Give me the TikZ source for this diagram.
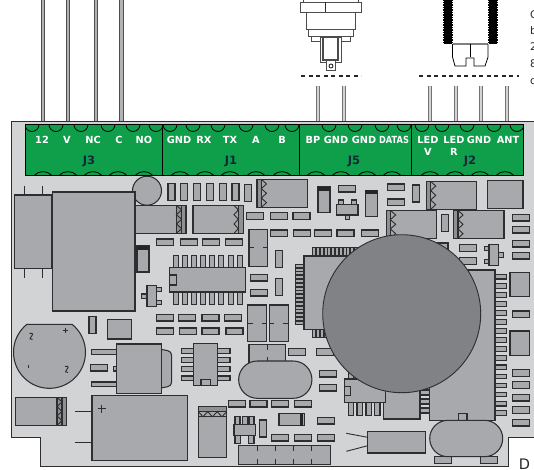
\documentclass[tikz,border=0pt]{standalone}
\usepackage{fontspec}
\setmainfont{DejaVu Sans}
\definecolor{boardgrey}{HTML}{D1D3D4}
\definecolor{partgrey}{HTML}{A7A9AC}
\definecolor{domegrey}{HTML}{808285}
\definecolor{linegrey}{HTML}{2E2E30}
\definecolor{blockgreen}{HTML}{0F9F4B}
\definecolor{idblue}{HTML}{14283A}
\tikzset{
    board/.style={draw=linegrey,fill=boardgrey,line width=0.9pt},
    part/.style={draw=linegrey,fill=partgrey,line width=1.05pt},
    tick/.style={draw=linegrey,line width=0.9pt},
    terminal/.style={draw=black,fill=blockgreen,line width=0.9pt},
    scallop/.style={draw=black,line width=0.8pt},
    wire/.style={draw=linegrey!85,double=partgrey!90,double distance=2.3pt,line width=1pt},
    pinlabel/.style={text=white,font=\bfseries\fontsize{9.8}{10}\selectfont,inner sep=0pt},
    idlabel/.style={text=idblue,font=\bfseries\fontsize{11.5}{12}\selectfont,inner sep=0pt},
    cuttext/.style={text=black!85,anchor=base west,inner sep=0pt,font=\fontsize{10.5}{12}\selectfont},
    fitting/.style={draw=black!70,fill=white,line width=1pt},
    dashrow/.style={draw=black!85,line width=1.8pt,dash pattern=on 4pt off 3.5pt},
}
\newcommand{\zigv}[4]{\draw[tick] (#1,#3) -- (#2,#3+#4/6) -- (#1,#3+2*#4/6) -- (#2,#3+3*#4/6) -- (#1,#3+4*#4/6) -- (#2,#3+5*#4/6) -- (#1,#3+#4);}
\begin{document}
\begin{tikzpicture}[x=1pt,y=-1pt]
    \path[use as bounding box,clip] (0,0) rectangle (534,469);

    \foreach \xa/\nam in {43/a,68/b,96/c,121.5/d} {
        \coordinate (top\nam) at (\xa,-2);
        \coordinate (foot\nam) at (\xa,124);
        \draw[wire] (top\nam) -- (foot\nam);
    }
    \foreach \xa/\nam in {318/e,344/f,430/g,456/h,481/i,507/j} {
        \coordinate (top\nam) at (\xa,86);
        \coordinate (foot\nam) at (\xa,124);
        \draw[wire,draw=black!55,double=boardgrey] (top\nam) -- (foot\nam);
    }
    \draw[dashrow] (301,76) -- (361,76);
    \draw[dashrow] (419,76) -- (519,76);

    \draw[fitting] (303,-1) rectangle (358,2);
    \draw[fitting] (300,2) rectangle (361,12.5);
    \draw[tick] (325,2) -- (325,12.5);
    \draw[fitting] (306.7,12.5) rectangle (355,29.5);
    \draw[fitting] (308.5,29.5) rectangle (353.5,36);
    \draw[fitting] (311,36) rectangle (350,41);
    \draw[fitting] (320,37) rectangle (341,62);
    \draw[fitting] (326,60) rectangle (335,70);
    \draw[fitting,line width=1.2pt] (323,37) rectangle (338,60);
    \draw[tick] (331,66) circle (2);

    \foreach \xa in {443,488} {
        \fill[black] (\xa,-1) rectangle (\xa+10,44);
        \foreach \ya in {1,3.5,...,44} {
            \draw[white,line width=0.5pt] (\xa,\ya) -- (\xa+1,\ya);
            \draw[white,line width=0.5pt] (\xa+9,\ya) -- (\xa+10,\ya);
        }
    }
    \draw[draw=black!50,line width=1.2pt] (453,44) -- (488,44);
    \draw[draw=black,line width=0.8pt] (452.5,44) -- (452.5,57) -- (455,66) -- (466,66) -- (466,58) -- (474,58) -- (474,66) -- (485,66) -- (488,57) -- (488,44);
    \draw[draw=black,line width=0.8pt] (470.5,44) -- (470.5,57);

    \node[cuttext] (capa) at (530,18) {C};
    \node[cuttext] (capb) at (530,34) {b};
    \node[cuttext] (capc) at (530,50) {2};
    \node[cuttext] (capd) at (530,67) {8};
    \node[cuttext] (cape) at (530,84) {c};
    \node[cuttext,font=\fontsize{14.5}{16}\selectfont] (capf) at (518.6,469) {D};

    \draw[board] (540,121) -- (11.5,121) -- (11.5,437.7) -- (40.3,437.7) -- (40.3,466.7) -- (508,466.7) -- (508,437.7) -- (540,437.7);

    \draw[terminal] (25.5,124.5) rectangle (523.5,175);
    \begin{scope}
        \clip (25.5,124.5) rectangle (523.5,175);
        \foreach \xa in {32,56,81,108,133,156,170,193,218,246,272,292,329,355,382,404,422,442,467,494,517}
            \draw[scallop] (\xa,124.5) circle (7);
        \foreach \xa in {43,68,93,118,144,180,205,230,256,282,316,341,367,392,430,455,480,505}
            \draw[scallop] (\xa-8.5,175) .. controls (\xa-4,170.5) and (\xa+4,170.5) .. (\xa+8.5,175);
    \end{scope}
    \foreach \xa in {162,299.3,411}
        \draw[terminal,line width=1pt] (\xa,124.5) -- (\xa,175);
    \draw[draw=black,line width=0.9pt] (25.5,124.5) rectangle (523.5,175);

    \foreach \xa/\ya/\txt/\nam in {42/140/12/tw,67/140/V/v,93/140/NC/nc,119/140/C/c,144/140/NO/no,
        179/140/GND/gnda,204/140/RX/rx,230/140/TX/tx,256/140/A/a,282/140/B/b,
        313/140/BP/bp,336/140/GND/gndb,364/140/GND/gndc,
        428/140/LED/leda,428/152/V/ledv,454/140/LED/ledb,454/152/R/ledr,479/140/GND/gndd,508/140/ANT/ant}
        \node[pinlabel] (pin\nam) at (\xa,\ya) {\txt};
    \node[pinlabel,xscale=.84] (pindatas) at (394,140) {DATAS};
    \foreach \xa/\txt in {89/J3,231/J1,354/J5,470/J2}
        \node[idlabel] (id\txt) at (\xa,161) {\txt};

    \draw[part] (147,190.7) circle (14.5);
    \foreach \xa in {168,180.7,193.3,206.3,219.3,232}
        \draw[part] (\xa,183.3) rectangle (\xa+7,200.7);
    \draw[part] (244.7,184.3) rectangle (251.3,201.7);

    \draw[tick] (24,185.5) -- (24,195) (42.3,185.5) -- (42.3,195) (24,268.3) -- (24,277.7) (42.3,268.3) -- (42.3,277.7);
    \foreach \xa/\ya/\xb/\yb in {14.7/195/51.7/268.3,52.3/192/135/311,107.3/319.3/131.7/339,
        249/229.7/267.7/266.7,487.3/180.3/523/208.3,510/272.3/529.3/296.7,510/331/529.3/355.3}
        \draw[part] (\xa,\ya) rectangle (\xb,\yb);

    \foreach \xa/\xb/\ya/\xs/\xt/\xp/\xq in {135.3/186/205.3/176.3/181.7/176.3/181.7,
        193/243.7/205.3/238.3/243.7/234/238.3,
        257/307.7/179.3/257/261.3/261.3/266.5,
        426.7/476.7/181.3/426.7/430.7/430.7/435.7,
        386.3/436.7/210.3/386.3/390.3/390.3/395.7,
        453.3/504/210.3/453.3/458/458/463,
        15.7/66.3/397.3/57/62/57/62} {
        \draw[part] (\xa,\ya) rectangle (\xb,\ya+28);
        \draw[part,fill=partgrey!85!black] (\xs,\ya) rectangle (\xt,\ya+28);
        \zigv{\xp}{\xq}{\ya}{28}
    }
    \draw[part,fill=partgrey!85!black] (181.7,205.3) rectangle (186,233.3);
    \draw[part,fill=partgrey!85!black] (62,397.3) rectangle (66.3,425.3);

    \foreach \xa/\ya in {246.7/212.7,270.7/212.7,293/212.7,
        156.7/239,180.7/239,202.7/239,225.3/239,
        270.3/230,293.3/230,314.7/230,337/230,361.3/230,
        338.3/185.3,387.3/184,387.3/199,
        250.3/274.3,250.3/289.3,
        156.7/314.3,178.7/314.3,202/314.3,224.7/314.3,
        156.7/328,179.3/328,202/328,226/328,
        288.7/348.7,316.7/348.7,319.3/370.3,319.3/384.3,
        90.3/364.3,228.3/400.3,250/400.3,271.3/400.3,294.3/400.3,
        271.3/434.3,294.3/434.3,317.3/434.3,317.3/417.3,
        434.3/456.7,480.7/456.7,
        459.3/244.7,459.3/257.7,
        512.7/214.3,512.7/226.3,512.7/240.3,512.7/252.3,512.7/311,
        512.7/369.7,512.7/381.7,512.7/394.3,512.7/406.7,512.7/419.3}
        \draw[part] (\xa,\ya) rectangle (\xa+17,\ya+6.7);

    \foreach \xa/\ya in {275.3/250.7,275.3/278.7,412.3/185,441.3/214.3,259.3/420,89/316.3}
        \draw[part] (\xa,\ya) rectangle (\xa+7,\ya+17);

    \foreach \xa/\ya in {137/246,318/186.7,365.3/190.3} {
        \draw[part] (\xa,\ya) rectangle (\xa+12,\ya+26);
        \fill[black!85] (\xa,\ya) rectangle (\xa+12,\ya+4);
    }

    \foreach \ia in {0,...,7} {
        \draw[part] (173.2+9.14*\ia,255.7) rectangle (178.2+9.14*\ia,267.7);
        \draw[part] (173.2+9.14*\ia,292) rectangle (178.2+9.14*\ia,304.7);
    }
    \draw[part] (169.3,267.7) rectangle (245.7,292);
    \draw[part] (169.3,275) rectangle (176.7,285);

    \draw[part] (156.7,287.3) rectangle (161.3,291.7);
    \draw[part] (156.7,300.7) rectangle (161.3,304.7);
    \draw[part] (141.7,294) rectangle (147,298.3);
    \draw[part] (147,285.7) rectangle (156.7,306.7);

    \draw[part] (484.3,246.3) rectangle (489,250.3);
    \draw[part] (484.3,259.7) rectangle (489,263.7);
    \draw[part] (498.7,252.7) rectangle (503.7,257.3);
    \draw[part] (489,244.3) rectangle (498.7,265.3);

    \draw[part] (338.7,200) rectangle (343.3,204.3);
    \draw[part] (351.7,200) rectangle (356.3,204.3);
    \draw[part] (345.3,215) rectangle (349.3,219.3);
    \draw[part] (336.3,204.3) rectangle (358,215);

    \draw[part] (72.1,324.3) arc[start angle=-51.1,end angle=231.1,radius=36] -- cycle;
    \draw[tick] (63,330.3) -- (67.6,330.3) (65.3,328) -- (65.3,332.6);
    \draw[tick] (28.3,365.3) -- (28.3,368.3);
    \draw[tick] (29.5,333.5) .. controls (34,332) and (33,336) .. (31,337) .. controls (29,338) and (30,340) .. (32.5,339.5);
    \draw[tick] (65,366.5) .. controls (69.5,365) and (68.5,369) .. (66.5,370) .. controls (64.5,371) and (65.5,373) .. (68,372.5);

    \draw[part,rounded corners=4pt] (155,348.3) -- (171.7,348.3+3) -- (171.7,389-3) -- (155,389) -- cycle;
    \draw[part] (91.7,349.7) rectangle (116.3,354.3);
    \draw[part] (91.7,382) rectangle (116.3,386.7);
    \draw[part] (113.7,366.3) rectangle (116.3,371);
    \draw[part] (116.3,344) rectangle (161.7,393.3);

    \foreach \ya in {348.7,357.7,366.7,376} {
        \draw[part] (181.3,\ya) rectangle (193.7,\ya+4.7);
        \draw[part] (217.7,\ya) rectangle (230,\ya+4.7);
    }
    \draw[part] (193.7,343.3) rectangle (217.7,385.3);
    \draw[part] (201,379.3) rectangle (210.7,385.3);

    \draw[tick] (75.3,411.7) -- (92,411.7) (75.3,442) -- (92,442);
    \draw[part] (92,395.3) rectangle (187.3,460.3);
    \draw[tick] (97.7,408.7) -- (105.7,408.7) (101.7,404.7) -- (101.7,412.7);

    \draw[part] (198.3,406.7) rectangle (226.7,457.3);
    \draw[part,fill=partgrey!85!black] (198.3,406.7) rectangle (226.7,411.7);
    \draw[tick] (198.3,416.7) -- (226.7,416.7);
    \draw[tick] (198.3,411.7) -- (203,416.7) -- (207.7,411.7) -- (212.5,416.7) -- (217.2,411.7) -- (222,416.7) -- (226.7,411.7);

    \foreach \xa in {235,242.3,249}
        \draw[part] (\xa,416.7) rectangle (\xa+5,424.3);
    \foreach \xa in {235,248.5}
        \draw[part] (\xa,435.7) rectangle (\xa+5.5,443.3);
    \draw[part] (234,424.3) rectangle (255.3,435.7);

    \draw[part] (238.7,445.3) rectangle (330.7,464.3);
    \foreach \xa in {257,275.3,293.3,311.7}
        \draw[tick] (\xa,445.3) -- (\xa,451) (\xa,459) -- (\xa,464.3);

    \draw[part] (279,413.3) rectangle (304.7,425.7);
    \fill[black!85] (300.3,413.3) rectangle (303.3,425.7);

    \foreach \xa in {247.7,269.3} {
        \draw[part] (\xa,305) rectangle (\xa+19,341.7);
        \draw[tick] (\xa,323.3) -- (\xa+5,323.3) (\xa+14,323.3) -- (\xa+19,323.3);
    }
    \draw[tick] (249,247.7) -- (254,247.7) (262.7,247.7) -- (267.7,247.7);
    \draw[part] (249,344.3) rectangle (285.7,362.3);
    \draw[tick] (267.3,344.3) -- (267.3,350) (267.3,357) -- (267.3,362.3);
    \draw[part] (257.3,361) -- (293.3,361) arc[start angle=-90,end angle=90,radius=18.65] -- (257.3,398.3) arc[start angle=90,end angle=270,radius=18.65] -- cycle;

    \foreach \ya in {0,...,15}
        \draw[part] (295.3,264.3+3.8*\ya) rectangle (304,267.3+3.8*\ya);
    \foreach \xa in {0,...,11}
        \draw[part] (312.7+3.8*\xa,247.7) rectangle (315.7+3.8*\xa,256);
    \foreach \xa in {0,...,3}
        \draw[part] (312.7+3.8*\xa,329.3) rectangle (315.7+3.8*\xa,337.7);
    \draw[part] (304,256) rectangle (375,329.3);

    \draw[part] (420,243) rectangle (448,262);
    \foreach \ya in {0,...,15}
        \draw[part] (495,274.3+9.07*\ya) rectangle (506.7,279+9.07*\ya);
    \foreach \ya in {390,399,408}
        \draw[part] (419.7,\ya) rectangle (429.7,\ya+5);
    \draw[part] (429.7,270) rectangle (495,420.3);
    \draw[part] (383.3,385) rectangle (420,419);
    \draw[part] (348.3,372) rectangle (353.7,380);
    \foreach \xa in {348.3,357,366,374.7}
        \draw[part] (\xa,402.3) rectangle (\xa+5.3,415.3);
    \draw[part] (344.3,379) rectangle (385.3,402.3);
    \draw[part] (344.3,386.7) rectangle (350.3,395.7);

    \draw[part] (458.3,413.7) rectangle (467,420.3);
    \draw[part] (447.9,420.3) -- (484.5,420.3) arc[start angle=-90,end angle=90,radius=18.2] -- (447.9,456.7) arc[start angle=90,end angle=270,radius=18.2] -- cycle;

    \draw[tick] (346.3,433.3) -- (367.7,437.3) (346.3,451.3) -- (367.7,445.7);
    \draw[part] (367.7,431.3) rectangle (425.7,453);

    \draw[draw=linegrey,fill=domegrey,line width=0.9pt] (401.7,313.7) circle (79);
\end{tikzpicture}
\end{document}
